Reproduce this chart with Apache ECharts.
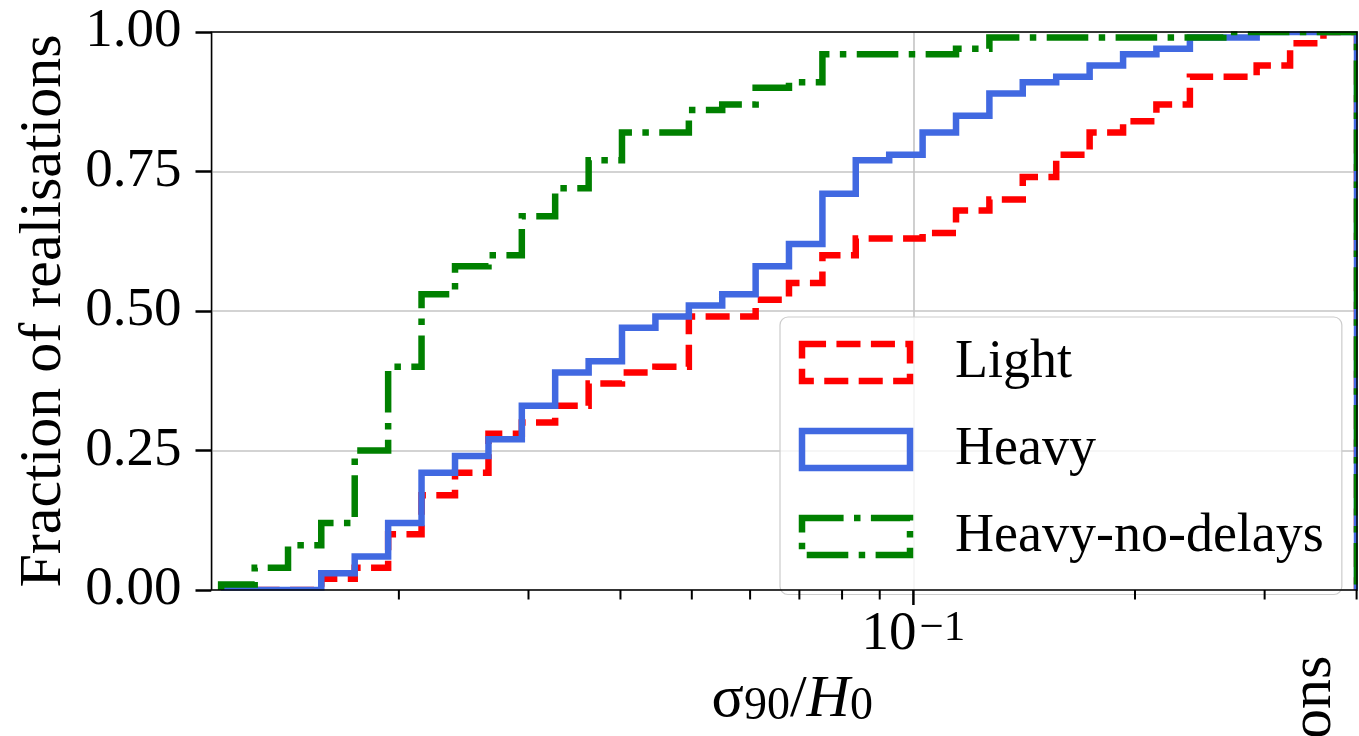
<!DOCTYPE html>
<html>
<head>
<meta charset="utf-8">
<script src="https://cdn.jsdelivr.net/npm/echarts@6/dist/echarts.min.js"></script>
<style>
html,body{margin:0;padding:0;background:#fff;}
#chart{width:1359px;height:736px;}
</style>
</head>
<body>
<div id="chart"></div>
<script>
// Shared (log-spaced) histogram bin edges
const binEdges = [0.01147,0.01274,0.01414,0.01569,0.01742,0.01934,0.02147,0.02384,0.02647,0.02938,
  0.03261,0.03621,0.04019,0.04462,0.04954,0.05499,0.06105,0.06776,0.07523,0.08350,0.09271,
  0.10292,0.11426,0.12683,0.14078,0.15631,0.17354,0.19268,0.21385,0.23746,0.26363,0.29261,
  0.32487,0.36059,0.40050];
// Cumulative fraction of realisations in each bin
const lightCum = [0,0,0,0.02,0.04,0.10,0.17,0.21,0.28,0.30,0.33,0.37,0.39,0.40,0.49,0.49,0.52,
  0.55,0.60,0.63,0.63,0.64,0.68,0.70,0.74,0.78,0.82,0.84,0.87,0.92,0.92,0.94,0.98,1.00];
const heavyCum = [0,0,0,0.03,0.06,0.12,0.21,0.24,0.27,0.33,0.39,0.41,0.47,0.49,0.51,0.53,0.58,
  0.62,0.71,0.77,0.78,0.82,0.85,0.89,0.91,0.92,0.94,0.96,0.97,0.99,0.99,1.00,1.00,1.00];
const noDelayCum = [0.01,0.04,0.08,0.12,0.25,0.40,0.53,0.58,0.60,0.67,0.72,0.77,0.82,0.82,0.86,
  0.87,0.90,0.91,0.96,0.96,0.96,0.96,0.97,0.99,0.99,0.99,0.99,0.99,0.99,0.99,1.00,1.00,1.00,1.00];
const seriesNames = ['Light','Heavy','Heavy-no-delays'];
const xMin = 0.01113, xMax = 0.4005;
const yTicks = [0, 0.25, 0.5, 0.75, 1.0];
const xMajorTicks = [0.1];
const xMinorTicks = [0.02,0.03,0.04,0.05,0.06,0.07,0.08,0.09,0.2,0.3,0.4];
const xAxisTitle = '{g|σ}{s|90}{n|/}{h|H}{s|0}';
const yAxisTitle = 'Fraction of realisations';

const FONT = "'Liberation Serif','Times New Roman','DejaVu Serif',serif";

function stepData(cum) {
  const d = [[binEdges[0], 0]];
  cum.forEach((v, i) => d.push([binEdges[i], v]));
  const last = binEdges[binEdges.length - 1];
  d.push([last, cum[cum.length - 1]]);
  d.push([last, 0]);
  return d;
}

const W = 6.5;
const styles = [
  {color:'#ff0000', type:[3.7*W, 1.6*W]},
  {color:'#4169e1', type:'solid'},
  {color:'#008000', type:[6.4*W, 1.6*W, 1*W, 1.6*W]}
];
const cums = [lightCum, heavyCum, noDelayCum];

const lineSeries = seriesNames.map((n, i) => ({
  name: n, type: 'line', step: 'end', symbol: 'none', z: 2,
  data: stepData(cums[i]),
  lineStyle: {color: styles[i].color, width: W, type: styles[i].type, cap: 'butt', join: 'miter'},
  itemStyle: {color: styles[i].color},
  emphasis: {disabled: true}
}));

function tickSeries(name, vals, len, lw) {
  return {
    name: name, type: 'custom', silent: true, z: 5, clip: false,
    data: vals.map(v => [v, 0]),
    renderItem: (params, api) => {
      const p = api.coord([api.value(0), 0]);
      return {type: 'line', shape: {x1: p[0], y1: p[1], x2: p[0], y2: p[1] + len},
              style: {stroke: '#000', lineWidth: lw}};
    }
  };
}

const chart = echarts.init(document.getElementById('chart'), null, {renderer: 'canvas'});
const gl = 211.5, gt = 32, gr = 1357, gb = 590;
chart.setOption({
  animation: false,
  backgroundColor: '#ffffff',
  grid: {left: gl, right: 1359 - gr, top: gt, bottom: 736 - gb, show: false},
  xAxis: {
    type: 'log', logBase: 10, min: xMin, max: xMax,
    axisLine: {show: false}, axisTick: {show: false},
    splitLine: {show: true, lineStyle: {color: '#c4c4c4', width: 1.6}},
    axisLabel: {
      margin: 17, showMinLabel: false, showMaxLabel: false,
      formatter: v => (xMajorTicks.some(t => Math.abs(v - t) < 1e-9) ? '{b|10}{s|−1}' : ''),
      rich: {
        b: {fontFamily: FONT, fontSize: 55, lineHeight: 56, color: '#000', verticalAlign: 'top'},
        s: {fontFamily: FONT, fontSize: 43, lineHeight: 24, color: '#000', verticalAlign: 'top', padding: [0, 0, 0, 3]}
      }
    },
    name: xAxisTitle, nameLocation: 'middle', nameGap: 80,
    nameTextStyle: {
      fontFamily: FONT, fontSize: 60, color: '#000', padding: [0, 0, 0, 16],
      rich: {
        g: {fontFamily: FONT, fontSize: 60, lineHeight: 60, color: '#000', verticalAlign: 'bottom'},
        s: {fontFamily: FONT, fontSize: 46, lineHeight: 34.5, color: '#000', verticalAlign: 'bottom'},
        n: {fontFamily: FONT, fontSize: 60, lineHeight: 60, color: '#000', verticalAlign: 'bottom'},
        h: {fontFamily: FONT, fontSize: 60, lineHeight: 60, color: '#000', fontStyle: 'italic', verticalAlign: 'bottom'}
      }
    }
  },
  yAxis: {
    type: 'value', min: yTicks[0], max: yTicks[yTicks.length - 1], interval: 0.25,
    axisLine: {show: false},
    axisTick: {show: true, length: 16, lineStyle: {color: '#000', width: 2.5}},
    splitLine: {show: true, lineStyle: {color: '#c4c4c4', width: 1.6}},
    axisLabel: {margin: 30, fontFamily: FONT, fontSize: 55, color: '#000', formatter: v => v.toFixed(2)},
    name: yAxisTitle, nameLocation: 'middle', nameGap: 136, nameRotate: 90,
    nameTextStyle: {fontFamily: FONT, fontSize: 60, color: '#000'}
  },
  legend: {
    orient: 'vertical', left: 780, top: 317,
    itemWidth: 108, itemHeight: 37, itemGap: 33,
    padding: [18.5, 18, 31, 18.75],
    backgroundColor: 'rgba(255,255,255,0.8)', borderColor: '#cccccc', borderWidth: 1.2, borderRadius: 8,
    selectedMode: false,
    textStyle: {fontFamily: FONT, fontSize: 54, color: '#000', lineHeight: 37, padding: [0, 0, 0, 40]},
    data: seriesNames.map((n, i) => ({
      name: n, icon: 'rect',
      itemStyle: {color: 'transparent', borderColor: styles[i].color, borderWidth: W,
                  borderType: styles[i].type, borderCap: 'butt', borderJoin: 'miter', opacity: 1}
    }))
  },
  series: lineSeries.concat([
    tickSeries('xMajorTicks', xMajorTicks, 15, 2.5),
    tickSeries('xMinorTicks', xMinorTicks, 9.5, 2)
  ]),
  graphic: [
    // white strips emulate clipping of the thick lines at the axes frame
    {type: 'rect', z: 3, silent: true, shape: {x: gl, y: gt - 8, width: 1359 - gl, height: 7.25}, style: {fill: '#fff'}},
    {type: 'rect', z: 3, silent: true, shape: {x: gr + 0.75, y: gt - 8, width: 10, height: gb - gt + 16}, style: {fill: '#fff'}},
    {type: 'rect', z: 3, silent: true, shape: {x: gl, y: gb + 0.75, width: 1359 - gl, height: 4}, style: {fill: '#fff'}},
    // axes frame (spines)
    {type: 'rect', z: 10, silent: true, shape: {x: gl, y: gt, width: gr - gl, height: gb - gt},
     style: {fill: 'none', stroke: '#000', lineWidth: 1.5}},
    // clipped label of the neighbouring panel
    {type: 'text', z: 10, silent: true, x: 1344, y: 739, rotation: Math.PI / 2,
     style: {text: 'ons', font: "60px 'Liberation Serif'", fill: '#000',
             textAlign: 'left', align: 'left', textVerticalAlign: 'bottom', verticalAlign: 'bottom'}}
  ]
});
</script>
</body>
</html>
